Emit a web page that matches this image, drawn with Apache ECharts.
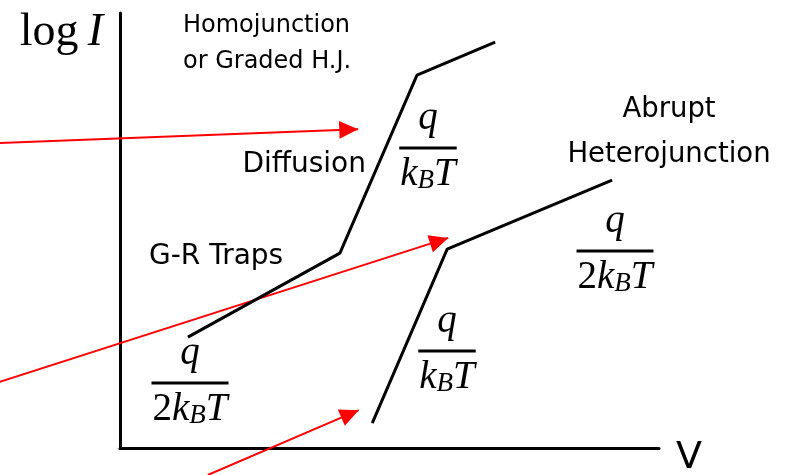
<!DOCTYPE html>
<html>
<head>
<meta charset="utf-8">
<script src="https://cdn.jsdelivr.net/npm/echarts@6/dist/echarts.min.js"></script>
<style>
  html, body { margin: 0; padding: 0; background: #fff; }
  #chart { width: 786px; height: 475px; }
</style>
</head>
<body>
<div id="chart"></div>
<script>
// Schematic forward I-V characteristics, log I versus V (arbitrary units)
const homoV      = [1.26, 4.08, 5.51, 6.96];
const homoLogI   = [2.55, 4.48, 8.57, 9.33];
const abruptV    = [4.68, 6.07, 9.13];
const abruptLogI = [0.57, 4.57, 6.16];

// Pointer arrows (start / tip), same V / log I units
const arrowStartV    = [-2.23, -2.23, 1.63];
const arrowStartLogI = [7.01, 1.52, -0.62];
const arrowTipV      = [4.42, 6.09, 4.43];
const arrowTipLogI   = [7.33, 4.83, 0.87];

const SERIF = '"Liberation Serif", "Times New Roman", serif';
const SANS  = '"DejaVu Sans", sans-serif';

// solid arrowhead in a square box, tip at the box centre
const ARROW_HEAD = 'path://M-15,-15M15,-15M0,0L7,15L-7,15Z';

const chart = echarts.init(document.getElementById('chart'), null, { renderer: 'canvas' });

const zip = (xs, ys) => xs.map((x, i) => [x, ys[i]]);

const measureCtx = document.createElement('canvas').getContext('2d');
function textWidth(str, size, family, style) {
  measureCtx.font = `${style} ${size}px ${family}`;
  return measureCtx.measureText(str).width;
}

// text placed by its baseline
function label(str, x, base, size, family, style, align) {
  return {
    type: 'text', x: x, y: base - 0.34 * size, silent: true,
    style: {
      text: str, fontSize: size, fontFamily: family, fontStyle: style || 'normal',
      fill: '#000', align: align || 'left', verticalAlign: 'middle'
    }
  };
}

// q over a denominator built from [text, size, style, drop] pieces
function fraction(cx, barY, den) {
  const els = [];
  els.push(label('q', cx, barY - 16, 39, SERIF, 'italic', 'center'));
  const widths = den.map(p => textWidth(p[0], p[1], SERIF, p[2]));
  const total = widths.reduce((a, b) => a + b, 0);
  els.push({
    type: 'rect', silent: true,
    shape: { x: cx - total / 2 - 1, y: barY - 1.5, width: total + 2, height: 3 },
    style: { fill: '#000' }
  });
  let x = cx - total / 2;
  den.forEach((p, i) => {
    els.push(label(p[0], x, barY + 40 + p[3], p[1], SERIF, p[2], 'left'));
    x += widths[i];
  });
  return els;
}

const kBT  = [['k', 39, 'italic', 0], ['B', 27, 'italic', 2], ['T', 39, 'italic', 0]];
const kBT2 = [['2', 39, 'normal', 0]].concat(kBT);

const graphics = [
  label('Homojunction',   183, 34,  24, SANS, 'normal', 'left'),
  label('or Graded H.J.', 183, 70,  24, SANS, 'normal', 'left'),
  label('Diffusion',      366, 174, 28, SANS, 'normal', 'right'),
  label('G-R Traps',      149, 266, 28, SANS, 'normal', 'left'),
  label('Abrupt',         669, 119, 27.5, SANS, 'normal', 'center'),
  label('Heterojunction', 669, 164, 27.5, SANS, 'normal', 'center')
]
  .concat(fraction(428, 148, kBT))
  .concat(fraction(190, 383, kBT2))
  .concat(fraction(615, 251, kBT2))
  .concat(fraction(447, 351, kBT));

const axisLine = { show: true, lineStyle: { color: '#000', width: 3 } };

chart.setOption({
  animation: false,
  backgroundColor: '#fff',
  grid: { left: 120, top: 13, width: 539, height: 435, outerBoundsMode: 'none' },
  xAxis: {
    type: 'value', min: 0, max: 10,
    axisLine: axisLine, axisTick: { show: false }, axisLabel: { show: false }, splitLine: { show: false },
    name: 'V', nameLocation: 'end', nameGap: 17,
    nameTextStyle: { fontFamily: SANS, fontSize: 38, lineHeight: 20, color: '#000', align: 'left', verticalAlign: 'top' }
  },
  yAxis: {
    type: 'value', min: 0, max: 10,
    axisLine: axisLine, axisTick: { show: false }, axisLabel: { show: false }, splitLine: { show: false },
    name: '{a|log\u2009}{b|I}', nameLocation: 'end', nameGap: 3,
    nameTextStyle: {
      align: 'right', verticalAlign: 'top', padding: [0, 17, 0, 0],
      rich: {
        a: { fontFamily: SERIF, fontSize: 46, color: '#000' },
        b: { fontFamily: SERIF, fontSize: 46, fontStyle: 'italic', color: '#000' }
      }
    }
  },
  series: [
    {
      name: 'Homojunction', type: 'line', data: zip(homoV, homoLogI),
      symbol: 'none', lineStyle: { color: '#000', width: 3 }, clip: false
    },
    {
      name: 'Abrupt Heterojunction', type: 'line', data: zip(abruptV, abruptLogI),
      symbol: 'none', lineStyle: { color: '#000', width: 3 }, clip: false
    },
    {
      name: 'Pointers', type: 'lines', coordinateSystem: 'cartesian2d', clip: false,
      symbol: ['none', ARROW_HEAD], symbolSize: 38,
      itemStyle: { color: '#ff0000' },
      lineStyle: { color: '#ff0000', width: 2, opacity: 1, curveness: 0 },
      data: arrowStartV.map((v, i) => ({
        coords: [[v, arrowStartLogI[i]], [arrowTipV[i], arrowTipLogI[i]]]
      }))
    }
  ],
  graphic: graphics
});
</script>
</body>
</html>
